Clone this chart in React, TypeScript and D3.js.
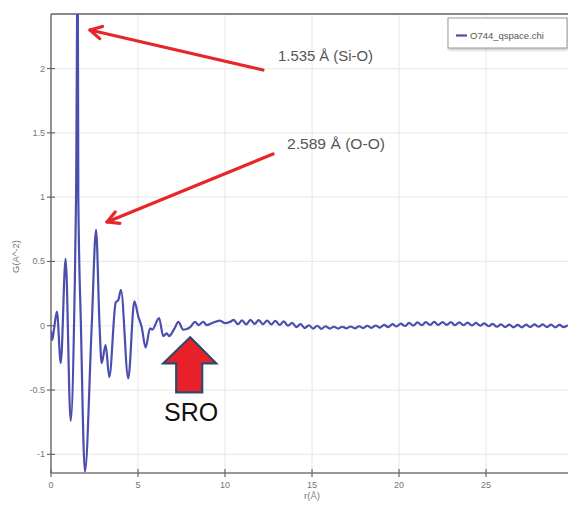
import React from 'react'
import * as d3 from 'd3'

// G(r) near region (r in Å)
const rNear = [0, 0.07, 0.17, 0.34, 0.56, 0.84, 1.13, 1.35, 1.44, 1.535, 1.57, 1.72, 1.95, 2.34, 2.589, 2.79, 2.91, 3.14, 3.35, 3.72, 3.87, 4.02, 4.44, 4.79, 5.02, 5.21, 5.44, 5.69, 5.82, 6.21, 6.45, 6.65, 6.78, 7.1, 7.32, 7.6, 7.8, 8.0, 8.28, 8.47, 8.75, 8.95, 9.24, 9.71, 10.0, 10.29]
const gNear = [-0.04, -0.11, -0.03, 0.11, -0.29, 0.52, -0.74, 0.2, 1.0, 2.9, 1.0, 0.0, -1.135, 0.0, 0.745, 0.0, -0.29, -0.15, -0.4, 0.18, 0.2, 0.28, -0.41, 0.19, 0.07, -0.01, -0.17, -0.02, -0.03, 0.06, -0.08, -0.06, -0.08, -0.02, 0.03, -0.03, -0.025, -0.01, 0.03, 0.005, 0.03, 0.005, 0.02, 0.04, 0.02, 0.03]

// small ripples in the tail
const rTail = [10.5, 10.74, 10.98, 11.22, 11.46, 11.7, 11.94, 12.18, 12.42, 12.66, 12.9, 13.14, 13.38, 13.62, 13.86, 14.1, 14.34, 14.58, 14.82, 15.06, 15.3, 15.54, 15.78, 16.02, 16.26, 16.5, 16.74, 16.98, 17.22, 17.46, 17.7, 17.94, 18.18, 18.42, 18.66, 18.9, 19.14, 19.38, 19.62, 19.86, 20.1, 20.34, 20.58, 20.82, 21.06, 21.3, 21.54, 21.78, 22.02, 22.26, 22.5, 22.74, 22.98, 23.22, 23.46, 23.7, 23.94, 24.18, 24.42, 24.66, 24.9, 25.14, 25.38, 25.62, 25.86, 26.1, 26.34, 26.58, 26.82, 27.06, 27.3, 27.54, 27.78, 28.02, 28.26, 28.5, 28.74, 28.98, 29.22, 29.46, 29.7]
const gTail = [0.045, 0.012, 0.042, 0.01, 0.046, 0.014, 0.044, 0.012, 0.04, 0.01, 0.038, 0.006, 0.034, 0.0, 0.022, -0.01, 0.012, -0.018, 0.004, -0.022, 0.0, -0.024, -0.004, -0.022, -0.008, -0.022, -0.008, -0.02, -0.006, -0.02, -0.004, -0.018, 0.0, -0.016, 0.002, -0.014, 0.006, -0.01, 0.012, -0.006, 0.016, -0.002, 0.022, 0.002, 0.026, 0.004, 0.028, 0.006, 0.03, 0.006, 0.028, 0.006, 0.028, 0.004, 0.026, 0.004, 0.024, 0.002, 0.022, 0.0, 0.018, -0.004, 0.014, -0.008, 0.01, -0.01, 0.008, -0.012, 0.006, -0.012, 0.008, -0.01, 0.01, -0.008, 0.01, -0.01, 0.008, -0.012, 0.006, -0.01, 0.004]

const xTicks = [0, 5, 10, 15, 20, 25]
const yTicks = [-1, -0.5, 0, 0.5, 1, 1.5, 2]

const seriesName = 'O744_qspace.chi'
const peakLabels = ['1.535 Å (Si-O)', '2.589 Å (O-O)']

const W = 568
const H = 506
const left = 51, right = 568, top = 14, bottom = 473

const tickFont = { fontFamily: 'Liberation Sans, Arial, sans-serif', fontSize: 9, fill: '#777' }

function App() {
    const x = d3.scaleLinear().domain([0, 29.71]).range([left, right])
    const y = d3.scaleLinear().domain([-1.145, 2.424]).range([bottom, top])

    const pts: [number, number][] = rNear.map((r, i) => [r, gNear[i]] as [number, number])
        .concat(rTail.map((r, i) => [r, gTail[i]] as [number, number]))

    const line = d3.line<[number, number]>()
        .x(d => x(d[0]))
        .y(d => y(d[1]))
        .curve(d3.curveMonotoneX)

    // annotation arrows: [tailX, tailY, headX, headY] in data units
    const arrows = [
        [x.invert(263), y.invert(70), x.invert(90), y.invert(30)],
        [x.invert(273), y.invert(154), x.invert(107), y.invert(222)],
    ]

    const head = (x1: number, y1: number, x2: number, y2: number) => {
        const a = Math.atan2(y2 - y1, x2 - x1)
        const L = 13, s = 0.5
        const p1 = [x2 - L * Math.cos(a - s), y2 - L * Math.sin(a - s)]
        const p2 = [x2 - L * Math.cos(a + s), y2 - L * Math.sin(a + s)]
        return `M${p1[0]},${p1[1]}L${x2},${y2}L${p2[0]},${p2[1]}`
    }

    // SRO block arrow
    const tipX = x(8.0), tipY = y(-0.09)
    const sro = `M${tipX},${tipY} L${tipX + 26},${tipY + 26} L${tipX + 12},${tipY + 26} L${tipX + 12},${tipY + 55} L${tipX - 14},${tipY + 55} L${tipX - 14},${tipY + 26} L${tipX - 27},${tipY + 26} Z`

    return (
        <svg width={W} height={H} style={{ position: 'absolute', left: 0, top: 0, background: '#fff' }}>
            <defs>
                <clipPath id="plotClip">
                    <rect x={left} y={top} width={right - left + 5} height={bottom - top} />
                </clipPath>
                <filter id="shadow" x="-10%" y="-20%" width="130%" height="160%">
                    <feDropShadow dx="1" dy="1.5" stdDeviation="1" floodColor="#000" floodOpacity="0.25" />
                </filter>
            </defs>

            {/* grid */}
            {xTicks.filter(t => t > 0).map(t => (
                <line key={'gx' + t} x1={x(t)} x2={x(t)} y1={top} y2={bottom} stroke="#ebebeb" strokeWidth={1.2} />
            ))}
            {yTicks.map(t => (
                <line key={'gy' + t} x1={left} x2={right} y1={y(t)} y2={y(t)} stroke="#ebebeb" strokeWidth={1.2} />
            ))}

            {/* frame / axes */}
            <line x1={left} x2={right} y1={top} y2={top} stroke="#888" strokeWidth={2} />
            <line x1={left} x2={left} y1={top} y2={bottom} stroke="#777" strokeWidth={1.6} />
            <line x1={left} x2={right} y1={bottom} y2={bottom} stroke="#777" strokeWidth={1.6} />

            {yTicks.map(t => (
                <g key={'ty' + t}>
                    <line x1={left - 4} x2={left + 4} y1={y(t)} y2={y(t)} stroke="#666" strokeWidth={1.2} />
                    <text x={left - 6} y={y(t) + 3} textAnchor="end" {...tickFont}>{String(t)}</text>
                </g>
            ))}
            {xTicks.map(t => (
                <g key={'tx' + t}>
                    <line x1={x(t)} x2={x(t)} y1={bottom - 4} y2={bottom + 4} stroke="#666" strokeWidth={1.2} />
                    <text x={x(t)} y={bottom + 15} textAnchor="middle" {...tickFont}>{String(t)}</text>
                </g>
            ))}
            <text x={x(15)} y={bottom + 26} textAnchor="middle" {...tickFont} fontSize={9.5}>r(Å)</text>
            <text transform={`translate(19,${(top + bottom) / 2 + 13}) rotate(-90)`} textAnchor="middle" {...tickFont} fontSize={9.5}>G(A^-2)</text>

            {/* data */}
            <path d={line(pts) || ''} fill="none" stroke="#4a4fae" strokeWidth={2.2} clipPath="url(#plotClip)" />

            {/* legend */}
            <rect x={448} y={18} width={119} height={30} fill="#fff" stroke="#999" strokeWidth={1} filter="url(#shadow)" />
            <line x1={456} x2={467} y1={35.5} y2={35.5} stroke="#4a4fae" strokeWidth={2.2} />
            <text x={470} y={39} {...tickFont} fill="#555" fontSize={9.5}>{seriesName}</text>

            {/* red annotation arrows */}
            {arrows.map((a, i) => {
                const x1 = x(a[0]), y1 = y(a[1]), x2 = x(a[2]), y2 = y(a[3])
                return (
                    <g key={'ar' + i} stroke="#e8262a" strokeWidth={3.2} fill="none" strokeLinecap="round" strokeLinejoin="round">
                        <line x1={x1} y1={y1} x2={x2} y2={y2} />
                        <path d={head(x1, y1, x2, y2)} />
                    </g>
                )
            })}
            <text x={278} y={61} textLength={95} lengthAdjust="spacingAndGlyphs" fontFamily="Liberation Sans, Arial, sans-serif" fontSize={14} fill="#555">{peakLabels[0]}</text>
            <text x={287} y={149} textLength={98} lengthAdjust="spacingAndGlyphs" fontFamily="Liberation Sans, Arial, sans-serif" fontSize={14} fill="#555">{peakLabels[1]}</text>

            {/* SRO marker */}
            <path d={sro} fill="#e8202a" stroke="#2d4a6e" strokeWidth={2.2} strokeLinejoin="miter" />
            <text x={tipX + 1} y={421} textAnchor="middle" fontFamily="Liberation Sans, Arial, sans-serif" fontSize={25} fill="#111">SRO</text>
        </svg>
    )
}

export default App
